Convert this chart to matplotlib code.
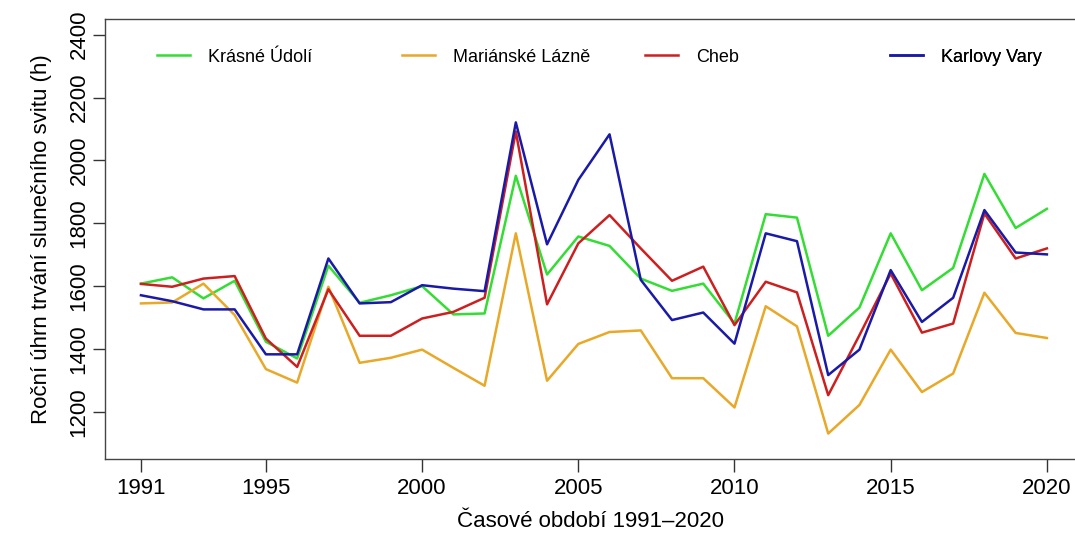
import numpy as np
import matplotlib
matplotlib.use("Agg")
import matplotlib.pyplot as plt
from matplotlib.lines import Line2D

plt.rcParams['font.family'] = ['Liberation Sans', 'DejaVu Sans']

years = list(range(1991, 2021))

# annual sunshine duration (h)
krasne_udoli = [1608, 1628, 1561, 1617, 1423, 1370, 1665, 1547, 1571, 1600,
                1510, 1513, 1951, 1637, 1758, 1728, 1624, 1585, 1608, 1481,
                1829, 1818, 1442, 1532, 1768, 1587, 1658, 1957, 1785, 1846]
marianske_lazne = [1545, 1548, 1608, 1508, 1336, 1293, 1598, 1356, 1372, 1398,
                   1340, 1283, 1768, 1299, 1416, 1454, 1459, 1307, 1307, 1214,
                   1536, 1472, 1131, 1222, 1398, 1263, 1322, 1579, 1451, 1435]
cheb = [1607, 1598, 1624, 1632, 1433, 1343, 1590, 1442, 1442, 1497,
        1518, 1563, 2092, 1542, 1736, 1826, 1720, 1617, 1662, 1476,
        1614, 1580, 1253, 1444, 1640, 1452, 1481, 1831, 1688, 1720]
karlovy_vary = [1571, 1552, 1526, 1526, 1383, 1383, 1688, 1545, 1549, 1603,
                1592, 1584, 2121, 1733, 1938, 2083, 1620, 1492, 1516, 1417,
                1768, 1743, 1317, 1398, 1651, 1486, 1563, 1842, 1707, 1701]

names = ["Krásné Údolí", "Mariánské Lázně", "Cheb", "Karlovy Vary"]
colors = ["#33dd33", "#e8a828", "#cc2020", "#1a1aa8"]
series = [krasne_udoli, marianske_lazne, cheb, karlovy_vary]

fig = plt.figure(figsize=(10.75, 5.37), dpi=100)
ax = fig.add_axes([0.0977, 0.1453, 0.9023, 0.8193])

for vals, c in zip(series, colors):
    ax.plot(years, vals, color=c, lw=1.8)

ax.set_xlim(1989.85, 2020.9)
ax.set_ylim(1050, 2450)
ax.set_xticks([1991, 1995, 2000, 2005, 2010, 2015, 2020])
ax.set_yticks(range(1200, 2401, 200))
ax.tick_params(labelsize=16, length=9, width=1, color="#333333")
ax.tick_params(axis="x", pad=5)
ax.tick_params(axis="y", pad=2)
for lab in ax.get_yticklabels():
    lab.set_rotation(90)
    lab.set_va("center")
for s in ["left", "bottom", "top"]:
    ax.spines[s].set_color("#444444")
    ax.spines[s].set_linewidth(1)
ax.spines["right"].set_visible(False)

ax.set_xlabel("Časové období 1991–2020", fontsize=16, labelpad=8)
ax.set_ylabel("Roční úhrn trvání slunečního svitu (h)", fontsize=16, labelpad=12)

# legend entries spaced evenly along the top
leg_x = [0.0536, 0.3062, 0.5567, 0.8093]
for nm, c, lx in zip(names, colors, leg_x):
    h = Line2D([], [], color=c, lw=1.8)
    lg = ax.legend([h], [nm], loc="center left", bbox_to_anchor=(lx, 0.9136),
                   frameon=False, fontsize=13, handlelength=1.83,
                   handletextpad=1.0, borderpad=0, borderaxespad=0)
    ax.add_artist(lg)

fig.savefig("out.png", dpi=100)
